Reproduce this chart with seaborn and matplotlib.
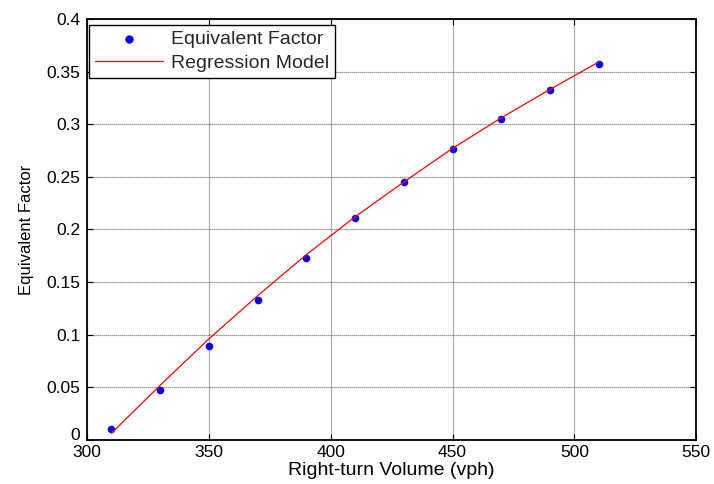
import matplotlib
matplotlib.use("Agg")
import matplotlib.pyplot as plt
import seaborn as sns
import pandas as pd

volume = [310, 330, 350, 370, 390, 410, 430, 450, 470, 490, 510]
factor = [0.010, 0.0475, 0.0896, 0.133, 0.173, 0.2107, 0.2446, 0.276, 0.305, 0.3327, 0.357]
model = [0.0064, 0.052, 0.096, 0.137, 0.176, 0.212, 0.245, 0.277, 0.306, 0.333, 0.359]

xticks = [300, 350, 400, 450, 500, 550]
yticks = [0, 0.05, 0.1, 0.15, 0.2, 0.25, 0.3, 0.35, 0.4]
ytick_labels = ["0", "0.05", "0.1", "0.15", "0.2", "0.25", "0.3", "0.35", "0.4"]

sns.set_theme(style="white")
plt.rcParams['font.family'] = ['Liberation Sans', 'DejaVu Sans']

df = pd.DataFrame({"volume": volume, "factor": factor, "model": model})

fig = plt.figure(figsize=(7.14, 4.84), dpi=100)
ax = fig.add_axes([0.122, 0.091, 0.853, 0.870])

sns.scatterplot(data=df, x="volume", y="factor", ax=ax, color="#0000ff",
                s=30, edgecolor="#0000ff", linewidth=0, label="Equivalent Factor", zorder=3)
sns.lineplot(data=df, x="volume", y="model", ax=ax, color="#ff0000",
             linewidth=0.9, label="Regression Model", zorder=4)

ax.set_xlim(300, 550)
ax.set_ylim(0, 0.4)
ax.set_xticks(xticks)
ax.set_xticklabels([str(t) for t in xticks])
ax.set_yticks(yticks)
ax.set_yticklabels(ytick_labels)
ax.grid(True, color="#808080", linestyle=(0, (1, 0.6)), linewidth=0.9)
ax.set_axisbelow(True)
for s in ax.spines.values():
    s.set_color("black")
    s.set_linewidth(1.3)
ax.tick_params(axis="both", which="both", direction="in", length=4, width=0.8,
               color="black", top=True, right=True, bottom=True, left=True,
               labelsize=12.5, labelcolor="black")
ax.tick_params(axis="y", pad=5)
ax.tick_params(axis="x", pad=3.8)
ax.get_yticklabels()[0].set_va("baseline")
ax.set_xlabel("Right-turn Volume (vph)", fontsize=14, color="black", labelpad=1)
ax.set_ylabel("Equivalent Factor", fontsize=12, color="black", labelpad=9)

leg = ax.legend(loc="upper left", bbox_to_anchor=(0.0, 0.99), fontsize=14,
                frameon=True, fancybox=False, framealpha=1, edgecolor="black",
                borderpad=0.3, handlelength=3.5, handletextpad=0.4, labelspacing=0.3,
                borderaxespad=0.1, markerscale=1.1)
leg.get_frame().set_linewidth(1.0)

fig.savefig("out.png", dpi=100)
